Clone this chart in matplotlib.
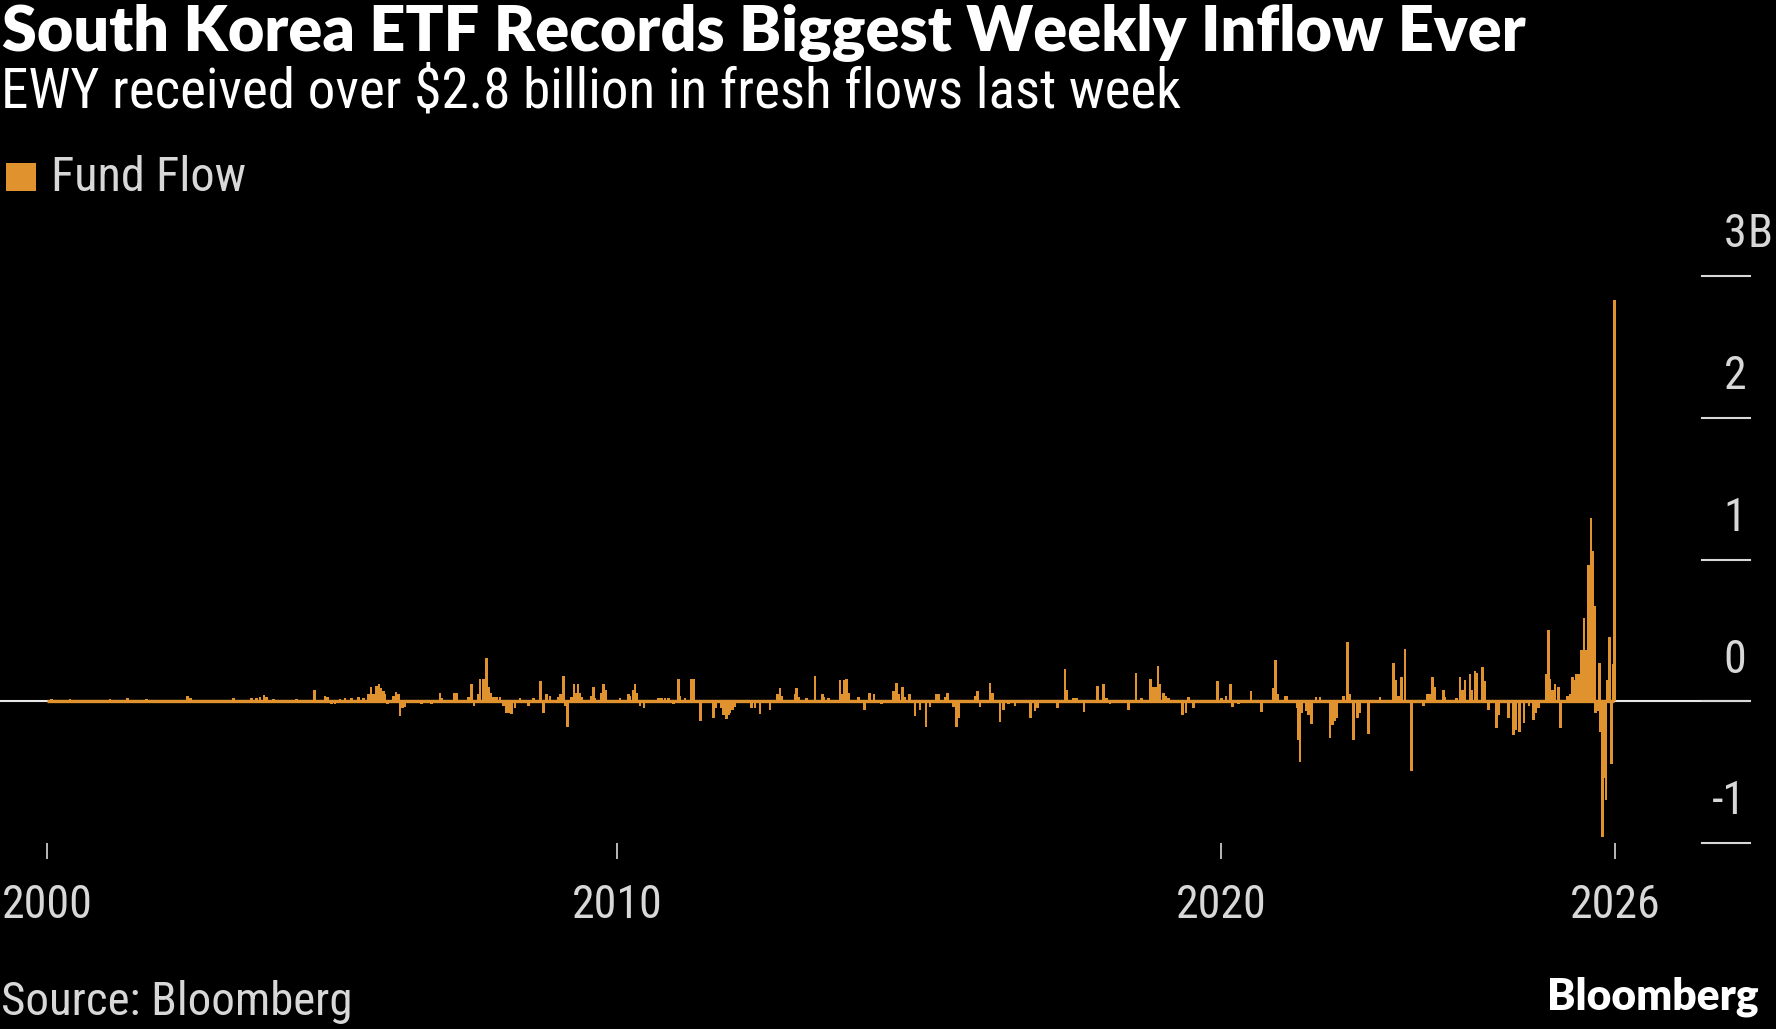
import matplotlib
matplotlib.use("Agg")
import matplotlib.pyplot as plt
from matplotlib import font_manager as fm
import matplotlib.transforms as mtransforms

# ---------------- data (position on the chart's time axis, flow in $ billions) -------------
years = [
    2000.548, 2000.631, 2000.934, 2001.404, 2001.597, 2001.890, 2001.956, 2002.204, 2002.701, 2002.883,
    2002.933, 2003.640, 2003.943, 2004.026, 2004.081, 2004.148, 2004.192, 2004.302,
    2004.495, 2004.689, 2004.981, 2005.158, 2005.197, 2005.268, 2005.324, 2005.406, 2005.489, 2005.600,
    2005.710, 2005.793, 2005.876, 2005.920, 2005.959, 2006.014, 2006.052, 2006.085, 2006.124, 2006.152,
    2006.190, 2006.290, 2006.334, 2006.373, 2006.400, 2006.444, 2006.483, 2006.566, 2006.759, 2006.925,
    2007.063, 2007.090, 2007.300, 2007.339, 2007.532, 2007.587, 2007.626, 2007.698, 2007.725, 2007.780,
    2007.808, 2007.836, 2007.874, 2007.907, 2007.946, 2008.001, 2008.056, 2008.112, 2008.167, 2008.211,
    2008.250, 2008.305, 2008.388, 2008.526, 2008.609, 2008.664, 2008.730, 2008.774, 2008.829,
    2008.886, 2009.024, 2009.062, 2009.106, 2009.134, 2009.178, 2009.244, 2009.283, 2009.316, 2009.349,
    2009.383, 2009.410, 2009.576, 2009.603, 2009.631, 2009.730, 2009.769, 2009.808, 2010.045, 2010.073,
    2010.183, 2010.211, 2010.266, 2010.293, 2010.321, 2010.376, 2010.443, 2010.680, 2010.735, 2010.790,
    2010.846, 2010.928, 2011.011, 2011.039, 2011.122, 2011.232, 2011.271, 2011.359, 2011.381, 2011.591,
    2011.630, 2011.729, 2011.757, 2011.812, 2011.839, 2011.867, 2011.911, 2011.950, 2011.977, 2012.099,
    2012.226, 2012.281, 2012.364, 2012.529, 2012.651, 2012.695, 2012.723, 2012.944, 2012.971, 2012.999,
    2013.137, 2013.275,
    2013.396, 2013.424, 2013.496, 2013.689, 2013.716, 2013.761, 2013.799, 2013.827, 2013.993, 2014.092,
    2014.175, 2014.252, 2014.379, 2014.572, 2014.627, 2014.655, 2014.727, 2014.765, 2014.837, 2014.931,
    2015.014, 2015.113, 2015.180, 2015.279, 2015.318, 2015.428, 2015.472, 2015.566, 2015.621, 2015.649,
    2015.759, 2015.925, 2015.969, 2016.008, 2016.173, 2016.218, 2016.339, 2016.394, 2016.477, 2016.587,
    2016.659, 2016.847, 2016.919, 2016.963, 2017.289, 2017.416, 2017.443, 2017.554, 2017.609, 2017.730,
    2017.952, 2018.051, 2018.107, 2018.162, 2018.217, 2018.466, 2018.593, 2018.686, 2018.835, 2018.880,
    2018.924, 2018.957, 2018.990, 2019.045, 2019.089, 2019.128, 2019.365, 2019.421, 2019.459, 2019.542,
    2019.791, 2019.945, 2020.011, 2020.083, 2020.160, 2020.194, 2020.287, 2020.409, 2020.497, 2020.646,
    2020.674, 2020.784, 2020.867, 2020.906, 2020.933, 2021.060, 2021.088, 2021.265, 2021.287, 2021.309,
    2021.336, 2021.419, 2021.447, 2021.502, 2021.574, 2021.640, 2021.806, 2021.850, 2021.889, 2021.916,
    2022.027, 2022.093, 2022.126, 2022.192, 2022.264,
    2022.303, 2022.441, 2022.634, 2022.855, 2022.899, 2022.938, 2022.993, 2023.048, 2023.158, 2023.352,
    2023.418, 2023.462, 2023.506, 2023.545, 2023.683, 2023.710, 2023.904, 2023.959, 2023.998, 2024.042,
    2024.125, 2024.152, 2024.207, 2024.235, 2024.334, 2024.362, 2024.428, 2024.566, 2024.594, 2024.759,
    2024.842, 2024.881, 2024.942, 2025.019, 2025.102, 2025.174, 2025.218, 2025.256, 2025.383, 2025.422,
    2025.450, 2025.494, 2025.532, 2025.588, 2025.626, 2025.737, 2025.781, 2025.825, 2025.864, 2025.891,
    2025.935, 2025.974, 2026.013, 2026.057, 2026.090, 2026.129, 2026.156, 2026.184, 2026.206, 2026.234,
    2026.267, 2026.289, 2026.316, 2026.350, 2026.377, 2026.399, 2026.432, 2026.471, 2026.493, 2026.515,
]

fund_flow_bn = [
    0.005, 0.016, 0.016, 0.010, 0.016, 0.020, 0.010, 0.016, 0.010, 0.040,
    0.020, 0.020, 0.020, 0.020, 0.030, 0.047, 0.030, 0.016,
    0.010, 0.016, 0.080, 0.035, 0.030, -0.016, -0.020, 0.016, 0.020, 0.025,
    0.030, 0.020, 0.050, 0.100, 0.050, 0.110, 0.120, 0.090, 0.070, 0.050,
    -0.020, 0.040, 0.065, 0.050, -0.105, -0.050, -0.040, 0.010, -0.020, -0.020,
    0.055, 0.020, 0.060, 0.060, 0.030, 0.120, -0.030, 0.050, 0.155, 0.160,
    0.130, 0.305, 0.100, 0.060, 0.030, 0.030, 0.030, -0.030, -0.080, -0.080,
    -0.090, -0.050, 0.020, -0.030, 0.020, 0.010, 0.140, -0.085, 0.050,
    0.040, 0.030, 0.050, 0.180, -0.030, -0.180, 0.030, 0.120, 0.060, 0.120,
    0.060, 0.030, 0.040, 0.100, 0.020, 0.060, 0.120, 0.080, 0.020, 0.010,
    0.050, 0.040, 0.080, 0.120, 0.060, -0.030, -0.050, 0.020, 0.020, 0.020,
    0.020, -0.020, 0.160, 0.040, 0.020, 0.160, 0.160, 0.010, -0.140, -0.115,
    -0.050, -0.050, -0.100, -0.125, -0.100, -0.080, -0.060, -0.040, 0.010, 0.010,
    -0.050, -0.050, -0.090, -0.060, 0.050, 0.090, 0.040, 0.050, 0.095, 0.030,
    0.020, 0.180,
    0.050, 0.030, 0.020, 0.150, 0.050, 0.150, 0.160, 0.060, 0.030, -0.060,
    0.055, 0.050, -0.020, 0.070, 0.130, 0.050, 0.100, 0.030, 0.050, -0.105,
    -0.060, -0.180, -0.040, 0.050, 0.050, 0.030, 0.055, -0.040, -0.185, -0.120,
    0.010, 0.040, 0.075, -0.040, 0.130, 0.060, -0.145, -0.060, -0.020, -0.030,
    0.010, -0.120, -0.070, -0.050, -0.050, 0.225, 0.080, 0.020, 0.020, -0.075,
    0.110, 0.125, 0.020, -0.020, 0.010, -0.065, 0.200, 0.020, 0.160, 0.100,
    0.100, 0.250, 0.120, 0.060, 0.040, 0.020, -0.100, -0.080, 0.030, -0.050,
    0.010, 0.140, 0.020, 0.040, 0.125, -0.040, -0.020, 0.010, 0.070, 0.010,
    -0.075, 0.010, 0.090, 0.290, 0.050, 0.040, 0.040, -0.050, -0.270, -0.430,
    -0.080, -0.070, -0.100, -0.160, 0.030, 0.030, -0.260, -0.170, -0.140, -0.120,
    0.040, 0.420, 0.050, -0.270, -0.120,
    -0.080, -0.230, 0.030, 0.270, 0.150, 0.040, 0.170, 0.370, -0.490, -0.030,
    0.050, 0.050, 0.170, 0.100, 0.080, 0.030, 0.020, 0.170, 0.080, 0.150,
    0.190, 0.080, 0.210, 0.200, 0.240, 0.140, -0.060, -0.190, -0.100, -0.120,
    -0.240, -0.200, -0.220, -0.150, -0.030, -0.130, -0.080, -0.050, 0.190, 0.500,
    0.160, 0.080, 0.120, 0.100, -0.190, 0.040, 0.050, 0.170, 0.150, 0.190,
    0.190, 0.360, 0.590, 0.360, 0.960, 1.290, 1.060, 0.670, -0.080, -0.070,
    0.270, -0.220, -0.960, -0.540, -0.700, 0.150, 0.450, -0.440, 0.260, 2.830,
]

x_tick_pos = [2000.56, 2010.0, 2020.0, 2026.53]
x_tick_labels = ["2000", "2010", "2020", "2026"]
y_ticks = [-1, 0, 1, 2, 3]
y_tick_labels = ["-1", "0", "1", "2", "3"]
y_unit = "B"

title = "South Korea ETF Records Biggest Weekly Inflow Ever"
subtitle = "EWY received over $2.8 billion in fresh flows last week"
legend_label = "Fund Flow"
source = "Source: Bloomberg"
brand = "Bloomberg"

# ---------------- style ----------------
W, H = 1776, 1029
BG = "#000000"
ORANGE = "#E0922E"
GREY = "#D8D8D8"


def pick(cands):
    for c in cands:
        try:
            fm.findfont(fm.FontProperties(family=c), fallback_to_default=False)
            return c
        except Exception:
            pass
    return "DejaVu Sans"


NARROW = pick(["Liberation Sans Narrow", "DejaVu Sans Condensed", "Roboto Condensed", "Liberation Sans"])
BOLD = pick(["Lato", "Liberation Sans", "DejaVu Sans"])

fig = plt.figure(figsize=(W / 100, H / 100), dpi=100, facecolor=BG)
renderer = fig.canvas.get_renderer()


def fx(px):
    return px / W


def fy(py):
    return 1 - py / H


def fit_text(x, y, s, target_w, family, weight="normal", color="white", ha="left", va="center"):
    t = fig.text(fx(x), fy(y), s, family=family, weight=weight, color=color,
                 ha=ha, va=va, fontsize=30)
    w = t.get_window_extent(renderer).width
    t.set_fontsize(30 * target_w / w)
    return t


# axes: x from 0 to 1750 px, y from 276 px (3B) to 843 px (-1)
ax = fig.add_axes([0, fy(843), fx(1750), (843 - 276) / H])
ax.set_facecolor(BG)
for s in ax.spines.values():
    s.set_visible(False)

ax.set_xlim(1999.775, 2028.763)
ax.set_ylim(-1, 3)

# zero line
ax.axhline(0, color="#E8E8E8", lw=1.5, zorder=1)
# continuous small weekly flows along the baseline
ax.hlines(0, years[0], years[-1], color=ORANGE, lw=2.4, zorder=2)
ax.bar(years, fund_flow_bn, width=0.045, color=ORANGE, linewidth=0, zorder=3)

# y ticks on the right: short lines + labels above them
trans = mtransforms.blended_transform_factory(ax.transAxes, ax.transData)
ax.set_yticks([])
for v, lab in zip(y_ticks, y_tick_labels):
    ax.plot([1702 / 1750, 1.0], [v, v], transform=trans, color=GREY, lw=1.5,
            clip_on=False, zorder=4)
    ax.annotate(lab, xy=(1746 / 1750, v), xycoords=trans, xytext=(0, 30),
                textcoords="offset points", ha="right", va="center",
                color=GREY, fontsize=33, family=NARROW, annotation_clip=False)
    if v == y_ticks[-1]:
        ax.annotate(y_unit, xy=(1747 / 1750, v), xycoords=trans, xytext=(0, 30),
                    textcoords="offset points", ha="left", va="center",
                    color=GREY, fontsize=33, family=NARROW, annotation_clip=False)

# x ticks
ax.set_xticks(x_tick_pos)
ax.set_xticklabels(x_tick_labels, family=NARROW, fontsize=33, color=GREY)
ax.tick_params(axis="x", direction="out", length=11.5, width=1.2, color=GREY, pad=17)

# texts
fit_text(2, 33, title, 1521, BOLD, weight="heavy", color="white")
fit_text(1, 92, subtitle, 1180, NARROW, color="white")
fig.patches.append(plt.Rectangle((fx(6), fy(191)), fx(30), 28 / H, transform=fig.transFigure,
                                 facecolor=ORANGE, edgecolor="none"))
fit_text(51, 178, legend_label, 195, NARROW, color=GREY)
fit_text(1, 1002, source, 351, NARROW, color=GREY)
fit_text(1759, 997, brand, 211, BOLD, weight="heavy", color="white", ha="right")

fig.savefig("out.png", dpi=100, facecolor=BG)
